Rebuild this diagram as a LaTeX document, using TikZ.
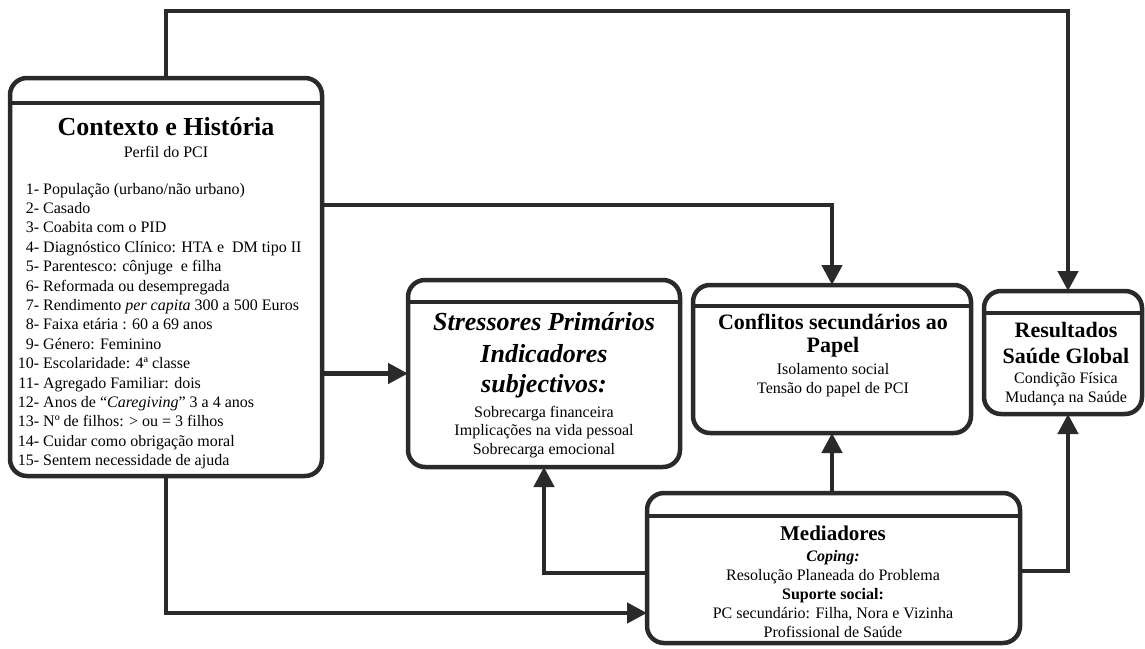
\documentclass[tikz,border=0pt]{standalone}
\usepackage{fontspec}
\setmainfont{Liberation Serif}
\usetikzlibrary{arrows.meta}
\definecolor{ln}{HTML}{2A2A2A}
\tikzset{
 box/.style={draw=ln, line width=4.5pt, rounded corners=17pt, inner sep=0pt, outer sep=0pt, fill=white},
 hdr/.style={draw=ln, line width=4.5pt},
 conn/.style={draw=ln, line width=4.5pt, -{Triangle[length=20pt,width=20pt]}},
 txt/.style={anchor=base, inner sep=0pt, text=black},
 ttl/.style={txt, font=\fontsize{22}{26}\selectfont\bfseries},
 bigttl/.style={txt, font=\fontsize{26}{30}\selectfont\bfseries},
 bdy/.style={txt, font=\fontsize{16}{19}\selectfont},
 lst/.style={anchor=base west, inner sep=0pt, font=\fontsize{16}{19}\selectfont},
}
\newcommand{\nm}[1]{\makebox[22pt][r]{#1}}
\begin{document}
\begin{tikzpicture}[x=1pt,y=-1pt]
\useasboundingbox (0,0) rectangle (1145,648);
% boxes
\node[box, minimum width=312pt, minimum height=398pt] (ctx) at (166,277) {};
\node[box, minimum width=272pt, minimum height=187pt] (str) at (544,373.5) {};
\node[box, minimum width=278pt, minimum height=148pt] (conf) at (832,359) {};
\node[box, minimum width=158pt, minimum height=123pt] (res) at (1063,352.5) {};
\node[box, minimum width=373pt, minimum height=150pt] (med) at (833.5,568) {};
% header lines
\draw[hdr] ([yshift=-25pt]ctx.north west) -- ([yshift=-25pt]ctx.north east);
\draw[hdr] ([yshift=-22pt]str.north west) -- ([yshift=-22pt]str.north east);
\draw[hdr] ([yshift=-21pt]conf.north west) -- ([yshift=-21pt]conf.north east);
\draw[hdr] ([yshift=-22pt]res.north west) -- ([yshift=-22pt]res.north east);
\draw[hdr] ([yshift=-23pt]med.north west) -- ([yshift=-23pt]med.north east);
% connector corners
\coordinate (topR) at (1068,11);
\coordinate (k1) at (832,205);
\coordinate (k2) at (166,613);
\coordinate (k3) at (544,573);
\coordinate (k4) at (1068,571);
% connectors
\draw[conn] (ctx.north) -- (ctx.north |- topR) -- (topR) -- (res.north -| topR);
\draw[conn] (ctx.east |- k1) -| (conf.north);
\draw[conn] (ctx.east |- str.west) -- (str.west);
\draw[conn] (ctx.south) |- (med.west |- k2);
\draw[conn] (med.west |- k3) -| (str.south);
\draw[conn] (med.north -| conf.south) -- (conf.south);
\draw[conn] (med.east |- k4) -| (res.south -| k4);
% Contexto texts
\node[bigttl] (ctxT) at (166,135) {Contexto e História};
\node[bdy] (ctxS) at (166,157) {Perfil do PCI};
\node[lst] (c1) at (17,194) {\nm{1-} População (urbano/não urbano)};
\node[lst] (c2) at (17,213.4) {\nm{2-} Casado};
\node[lst] (c3) at (17,232.8) {\nm{3-} Coabita com o PID};
\node[lst] (c4) at (17,252.2) {\nm{4-} Diagnóstico Clínico: HTA e\ \ DM tipo II};
\node[lst] (c5) at (17,271.6) {\nm{5-} Parentesco: cônjuge\ \ e filha};
\node[lst] (c6) at (17,291) {\nm{6-} Reformada ou desempregada};
\node[lst] (c7) at (17,310.4) {\nm{7-} Rendimento \textit{per capita} 300 a 500 Euros};
\node[lst] (c8) at (17,329.8) {\nm{8-} Faixa etária : 60 a 69 anos};
\node[lst] (c9) at (17,349.2) {\nm{9-} Género: Feminino};
\node[lst] (c10) at (17,368.6) {\nm{10-} Escolaridade: 4ª classe};
\node[lst] (c11) at (17,388) {\nm{11-} Agregado Familiar: dois};
\node[lst] (c12) at (17,407.4) {\nm{12-} Anos de “\textit{Caregiving}” 3 a 4 anos};
\node[lst] (c13) at (17,426.8) {\nm{13-} Nº de filhos: > ou = 3 filhos};
\node[lst] (c14) at (17,446.2) {\nm{14-} Cuidar como obrigação moral};
\node[lst] (c15) at (17,465.6) {\nm{15-} Sentem necessidade de ajuda};
% Stressores texts
\node[bigttl, font=\fontsize{26}{30}\selectfont\bfseries\itshape] (strT1) at (544,330) {Stressores Primários};
\node[bigttl, font=\fontsize{26}{30}\selectfont\bfseries\itshape] (strT2) at (544,362) {Indicadores};
\node[bigttl, font=\fontsize{26}{30}\selectfont\bfseries\itshape] (strT3) at (544,392) {subjectivos:};
\node[bdy] (str1) at (544,417) {Sobrecarga financeira};
\node[bdy] (str2) at (544,435.5) {Implicações na vida pessoal};
\node[bdy] (str3) at (544,454) {Sobrecarga emocional};
% Conflitos texts
\node[ttl] (confT1) at (833,329) {Conflitos secundários ao};
\node[ttl] (confT2) at (833,352) {Papel};
\node[bdy] (conf1) at (833,374) {Isolamento social};
\node[bdy] (conf2) at (833,393) {Tensão do papel de PCI};
% Resultados texts
\node[ttl] (resT1) at (1066,337) {Resultados};
\node[ttl] (resT2) at (1066,363) {Saúde Global};
\node[bdy] (res1) at (1066,383) {Condição Física};
\node[bdy] (res2) at (1066,402) {Mudança na Saúde};
% Mediadores texts
\node[ttl, font=\fontsize{21}{25}\selectfont\bfseries] (medT) at (833,540) {Mediadores};
\node[bdy, font=\fontsize{16}{19}\selectfont\bfseries\itshape] (med1) at (833,561) {Coping:};
\node[bdy] (med2) at (833,580) {Resolução Planeada do Problema};
\node[bdy, font=\fontsize{16}{19}\selectfont\bfseries] (med3) at (833,599) {Suporte social:};
\node[bdy] (med4) at (833,618) {PC secundário: Filha, Nora e Vizinha};
\node[bdy] (med5) at (833,637) {Profissional de Saúde};
\end{tikzpicture}
\end{document}
